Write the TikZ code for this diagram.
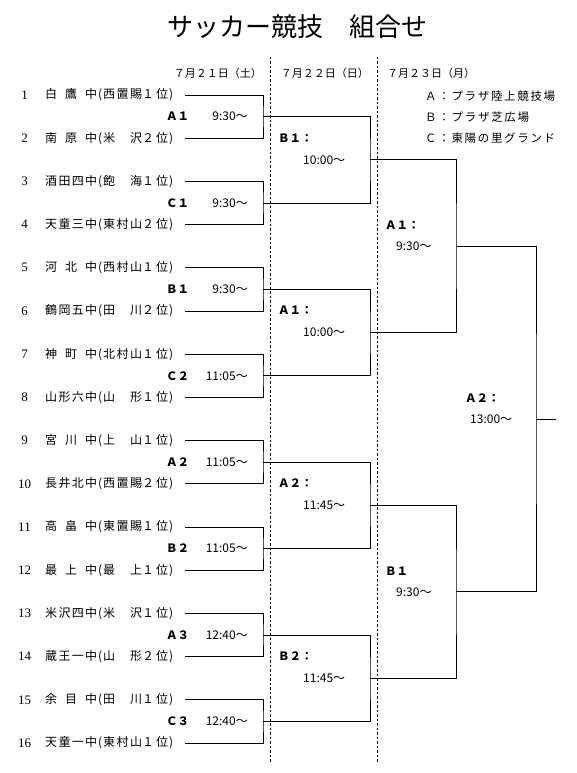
\documentclass[tikz,border=0pt]{standalone}
\usepackage{fontspec}
\setmainfont{Liberation Serif}
\newfontfamily\jp{Noto Sans CJK JP}
\def\sprdEnd{SPRDEND}
\def\gobbleone#1{}
\def\sprd#1{\sprdA#1\sprdEnd}
\def\sprdA#1#2{#1\ifx\sprdEnd#2\expandafter\gobbleone\else\hfill\expandafter\sprdA\fi#2}
\newcommand\teamtxt[3]{\makebox[52pt][s]{\sprd{#1}}\makebox[6pt]{(}\makebox[39pt][s]{\sprd{#2}}\makebox[26pt][s]{\sprd{#3位}}\makebox[6pt]{)}}
\tikzset{
  bline/.style={line width=0.9pt, black},
  dline/.style={line width=0.7pt, black, dash pattern=on 2.5pt off 2pt},
  teamname/.style={anchor=west, inner sep=0pt, font=\jp\fontsize{12}{12}\selectfont},
  teamnum/.style={inner sep=0pt, font=\fontsize{13}{13}\selectfont},
  venue/.style={anchor=west, inner sep=0pt, font=\jp\bfseries\fontsize{11.5}{11.5}\selectfont},
  timest/.style={inner sep=0pt, font=\jp\fontsize{12}{12}\selectfont},
  datest/.style={inner sep=0pt, font=\jp\fontsize{11}{11}\selectfont},
  legendst/.style={anchor=west, inner sep=0pt, font=\jp\fontsize{11.5}{11.5}\selectfont},
  titlest/.style={inner sep=0pt, font=\jp\fontsize{26}{26}\selectfont},
}
\begin{document}
\begin{tikzpicture}[x=1pt,y=-1pt]
\useasboundingbox (0,0) rectangle (576,773);
% title
\node[titlest] (title) at (297,27) {サッカー競技　組合せ};
% dashed day separators
\coordinate (da1) at (270,57); \coordinate (da2) at (270,762);
\coordinate (db1) at (377,57); \coordinate (db2) at (377,762);
\draw[dline] (da1) -- (da2);
\draw[dline] (db1) -- (db2);
% dates
\node[datest, anchor=east] (date1) at (262,73) {７月２１日（土）};
\node[datest, anchor=east] (date2) at (369,73) {７月２２日（日）};
\node[datest, anchor=west] (date3) at (387,73) {７月２３日（月）};
% legend
\node[legendst] (lgA) at (425,96) {\makebox[130pt][s]{\sprd{Ａ：プラザ陸上競技場}}};
\node[legendst] (lgB) at (425,117) {\makebox[104pt][s]{\sprd{Ｂ：プラザ芝広場}}};
\node[legendst] (lgC) at (425,138) {\makebox[130pt][s]{\sprd{Ｃ：東陽の里グランド}}};
% team numbers
\node[teamnum] (n1) at (24.5,95.0) {1};
\node[teamnum] (n2) at (24.5,138.2) {2};
\node[teamnum] (n3) at (24.5,181.4) {3};
\node[teamnum] (n4) at (24.5,224.6) {4};
\node[teamnum] (n5) at (24.5,267.8) {5};
\node[teamnum] (n6) at (24.5,311.0) {6};
\node[teamnum] (n7) at (24.5,354.2) {7};
\node[teamnum] (n8) at (24.5,397.4) {8};
\node[teamnum] (n9) at (24.5,440.6) {9};
\node[teamnum] (n10) at (24.5,483.8) {10};
\node[teamnum] (n11) at (24.5,527.0) {11};
\node[teamnum] (n12) at (24.5,570.2) {12};
\node[teamnum] (n13) at (24.5,613.4) {13};
\node[teamnum] (n14) at (24.5,656.6) {14};
\node[teamnum] (n15) at (24.5,699.8) {15};
\node[teamnum] (n16) at (24.5,743.0) {16};
% team names
\node[teamname] (t1) at (45,95.0) {\teamtxt{白鷹中}{西置賜}{１}};
\node[teamname] (t2) at (45,138.2) {\teamtxt{南原中}{米沢}{２}};
\node[teamname] (t3) at (45,181.4) {\teamtxt{酒田四中}{飽海}{１}};
\node[teamname] (t4) at (45,224.6) {\teamtxt{天童三中}{東村山}{２}};
\node[teamname] (t5) at (45,267.8) {\teamtxt{河北中}{西村山}{１}};
\node[teamname] (t6) at (45,311.0) {\teamtxt{鶴岡五中}{田川}{２}};
\node[teamname] (t7) at (45,354.2) {\teamtxt{神町中}{北村山}{１}};
\node[teamname] (t8) at (45,397.4) {\teamtxt{山形六中}{山形}{１}};
\node[teamname] (t9) at (45,440.6) {\teamtxt{宮川中}{上山}{１}};
\node[teamname] (t10) at (45,483.8) {\teamtxt{長井北中}{西置賜}{２}};
\node[teamname] (t11) at (45,527.0) {\teamtxt{高畠中}{東置賜}{１}};
\node[teamname] (t12) at (45,570.2) {\teamtxt{最上中}{最上}{１}};
\node[teamname] (t13) at (45,613.4) {\teamtxt{米沢四中}{米沢}{１}};
\node[teamname] (t14) at (45,656.6) {\teamtxt{蔵王一中}{山形}{２}};
\node[teamname] (t15) at (45,699.8) {\teamtxt{余目中}{田川}{１}};
\node[teamname] (t16) at (45,743.0) {\teamtxt{天童一中}{東村山}{１}};
% line start points
\foreach \i/\y in {1/95.0,2/138.2,3/181.4,4/224.6,5/267.8,6/311.0,7/354.2,8/397.4,9/440.6,10/483.8,11/527.0,12/570.2,13/613.4,14/656.6,15/699.8,16/743.0}
  \coordinate (s\i) at (185,\y);
% round 1 junctions
\foreach \k/\y in {1/116.6,2/203.0,3/289.4,4/375.8,5/462.2,6/548.6,7/635.0,8/721.4}
  \coordinate (m\k) at (263,\y);
% round 2 junctions
\foreach \k/\y in {1/159.8,2/332.6,3/505.4,4/678.2}
  \coordinate (p\k) at (370,\y);
% round 3 junctions
\coordinate (q1) at (456,246.2);
\coordinate (q2) at (456,591.8);
% final
\coordinate (fin) at (536,419.0);
\coordinate (finend) at (556,419.0);
% round 1 brackets
\draw[bline] (s1) -| (m1) |- (s2);
\draw[bline] (s3) -| (m2) |- (s4);
\draw[bline] (s5) -| (m3) |- (s6);
\draw[bline] (s7) -| (m4) |- (s8);
\draw[bline] (s9) -| (m5) |- (s10);
\draw[bline] (s11) -| (m6) |- (s12);
\draw[bline] (s13) -| (m7) |- (s14);
\draw[bline] (s15) -| (m8) |- (s16);
% round 2 brackets
\draw[bline] (m1) -| (p1) |- (m2);
\draw[bline] (m3) -| (p2) |- (m4);
\draw[bline] (m5) -| (p3) |- (m6);
\draw[bline] (m7) -| (p4) |- (m8);
% round 3 brackets
\draw[bline] (p1) -| (q1) |- (p2);
\draw[bline] (p3) -| (q2) |- (p4);
% final bracket
\draw[bline] (q1) -| (fin) |- (q2);
\draw[bline] (fin) -- (finend);
% round 1 labels
\node[venue] (v1) at (166,116.6) {Ａ１};
\node[timest, anchor=east] (h1) at (248,116.6) {9:30～};
\node[venue] (v2) at (166,203.0) {Ｃ１};
\node[timest, anchor=east] (h2) at (248,203.0) {9:30～};
\node[venue] (v3) at (166,289.4) {Ｂ１};
\node[timest, anchor=east] (h3) at (248,289.4) {9:30～};
\node[venue] (v4) at (166,375.8) {Ｃ２};
\node[timest, anchor=east] (h4) at (248,375.8) {11:05～};
\node[venue] (v5) at (166,462.2) {Ａ２};
\node[timest, anchor=east] (h5) at (248,462.2) {11:05～};
\node[venue] (v6) at (166,548.6) {Ｂ２};
\node[timest, anchor=east] (h6) at (248,548.6) {11:05～};
\node[venue] (v7) at (166,635.0) {Ａ３};
\node[timest, anchor=east] (h7) at (248,635.0) {12:40～};
\node[venue] (v8) at (166,721.4) {Ｃ３};
\node[timest, anchor=east] (h8) at (248,721.4) {12:40～};
% round 2 labels
\node[venue] (w1) at (278,137.8) {Ｂ１：};
\node[timest, anchor=west] (g1) at (303,159.8) {10:00～};
\node[venue] (w2) at (278,310.6) {Ａ１：};
\node[timest, anchor=west] (g2) at (303,332.6) {10:00～};
\node[venue] (w3) at (278,483.4) {Ａ２：};
\node[timest, anchor=west] (g3) at (303,505.4) {11:45～};
\node[venue] (w4) at (278,656.2) {Ｂ２：};
\node[timest, anchor=west] (g4) at (303,678.2) {11:45～};
% round 3 labels
\node[venue] (x1) at (385,225.2) {Ａ１：};
\node[timest, anchor=west] (k1) at (396,246.2) {9:30～};
\node[venue] (x2) at (385,570.8) {Ｂ１};
\node[timest, anchor=west] (k2) at (396,591.8) {9:30～};
% final label
\node[venue] (y1) at (465,398.0) {Ａ２：};
\node[timest, anchor=west] (z1) at (470,419.0) {13:00～};
\end{tikzpicture}
\end{document}
